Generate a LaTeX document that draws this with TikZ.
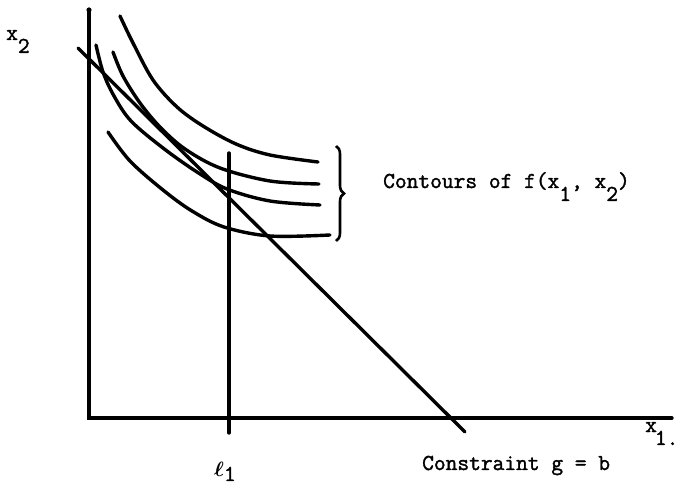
\documentclass[tikz,border=0pt]{standalone}
\usepackage{fontspec}
\newfontfamily\typew{Latin Modern Mono}[FakeBold=1.6]
\usetikzlibrary{decorations.pathreplacing}
\newcommand{\dnsub}[1]{\raisebox{-13pt}{#1}}
\begin{document}
\begin{tikzpicture}[x=1pt,y=-1pt,
  ink/.style={line width=3.4pt, line cap=round},
  contour/.style={ink, smooth, tension=0.55},
  lbl/.style={font=\typew\fontsize{22.8}{26}\selectfont, inner sep=0pt, anchor=base west}]
\useasboundingbox (0,0) rectangle (678,486);
% axes
\coordinate (ytop) at (89,10);
\coordinate (o) at (89,418);
\coordinate (xend) at (672,418);
\draw[ink] (ytop) -- (o) -- (xend);
\fill (ytop) circle (2.6);
% l1 line
\coordinate (l1top) at (229,153);
\coordinate (l1bot) at (229,433);
\draw[ink] (l1top) -- (l1bot);
% constraint
\coordinate (ga) at (78,48);
\coordinate (gb) at (465,432);
\draw[ink] (ga) -- (gb);
% contours
\draw[contour] plot coordinates {(120,16) (133,43) (153,80) (177,107) (203,126) (236,144) (270,155) (318,162)};
\draw[contour] plot coordinates {(113,52) (123,76) (140,103) (160,127) (185,149) (220,168) (270,181) (319,184)};
\draw[contour] plot coordinates {(96,45) (103,72) (114,96) (131,121) (163,148) (197,172) (227,189) (270,201) (320,205)};
\draw[contour] plot coordinates {(108,132) (130,161) (163,190) (192,211) (224,227) (270,236) (330,235)};
% brace
\coordinate (br1) at (336,146);
\coordinate (br2) at (336,241);
\draw[line width=2.6pt, decorate, decoration={brace, amplitude=8pt}] (br1) -- (br2);
% labels
\node[lbl] (lx2) at (6,40) {x\dnsub{2}};
\node[lbl] (lcont) at (383,188) {Contours of f(x\dnsub{1}, x\dnsub{2})};
\node[lbl] (lx1) at (645,432) {x\kern-2pt\dnsub{1.}};
\node[lbl] (ll1) at (214,477) {{\boldmath$\ell$}\raisebox{-4pt}{1}};
\node[lbl] (lcon) at (422,470) {Constraint g = b};
\end{tikzpicture}
\end{document}
